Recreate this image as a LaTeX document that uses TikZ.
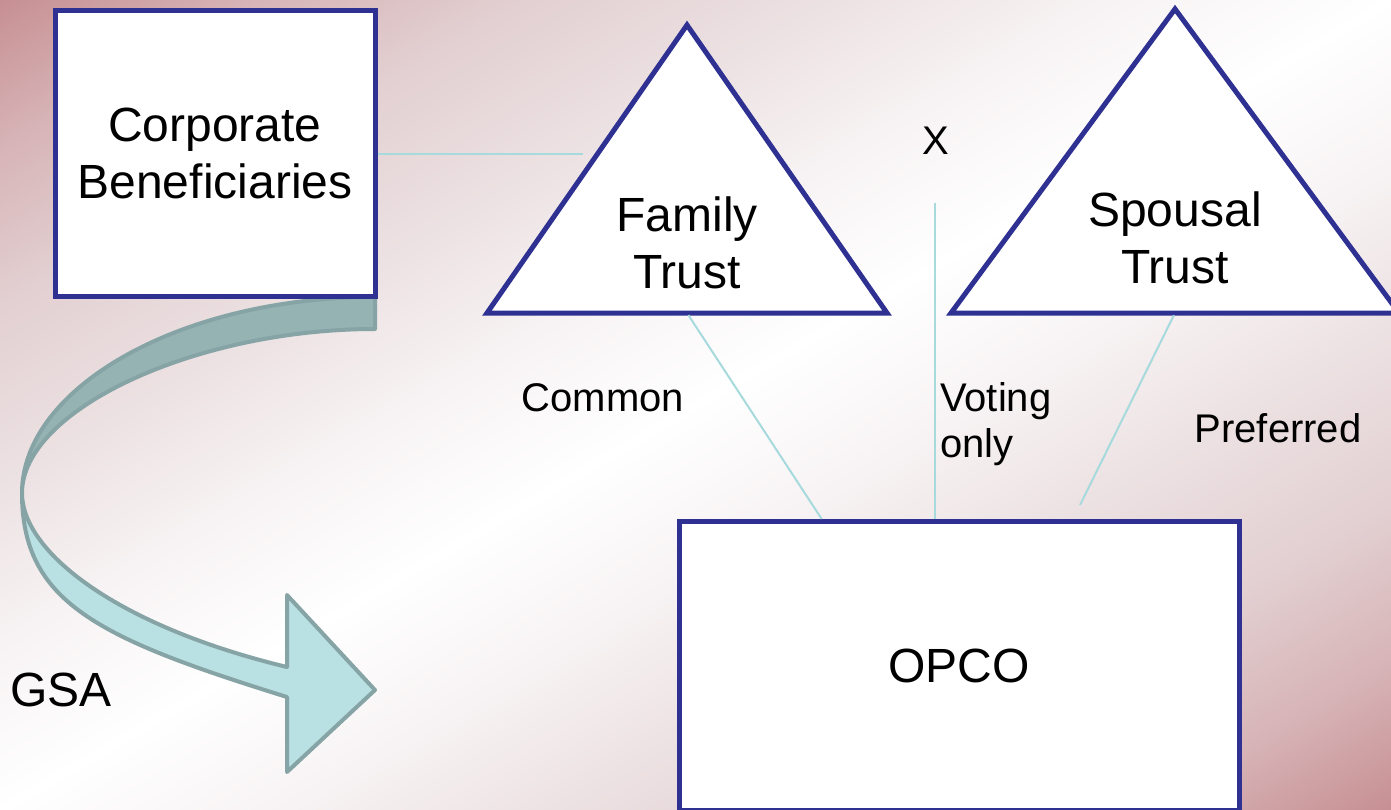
\documentclass[tikz,border=0pt]{standalone}
\usepackage{fontspec}
\setmainfont{Liberation Sans}
\newcommand\dgBig{\fontsize{48}{57}\selectfont}
\newcommand\dgSmall{\fontsize{40}{46}\selectfont}
\definecolor{navy}{RGB}{46,49,146}
\definecolor{conncol}{RGB}{166,218,221}
\definecolor{bandDark}{RGB}{150,179,180}
\definecolor{bandLight}{RGB}{185,224,227}
\definecolor{bandEdge}{RGB}{134,164,165}
\definecolor{bgA}{RGB}{196,137,141}
\definecolor{bgB}{RGB}{214,178,181}
\definecolor{bgC}{RGB}{226,207,209}
\definecolor{bgD}{RGB}{238,228,229}
\definecolor{bgE}{RGB}{248,244,245}
\tikzset{
  navybox/.style={draw=navy, line width=5pt, fill=white, inner sep=0pt, outer sep=0pt, align=center, font=\dgBig},
  tri/.style={draw=navy, line width=5pt, fill=white, line join=miter},
  conn/.style={draw=conncol, line width=2pt},
  lbl/.style={font=\dgSmall, inner sep=0pt, align=left},
  biglbl/.style={font=\dgBig, inner sep=0pt, align=center},
  band/.style={draw=bandEdge, line width=4pt, line join=round}
}
\begin{document}
\begin{tikzpicture}[x=1pt,y=-1pt]
\useasboundingbox (0,0) rectangle (1391,809);
% background gradient
\begin{scope}
\clip (0,0) rectangle (1391,809);
\begin{scope}[transform canvas={rotate around={30.2:(695.5,404.5)}}]
\fill[bgA] (-500,-495.5) rectangle (1900,-314.5);
\shade[top color=bgA,bottom color=bgB] (-500,-315.5) rectangle (1900,-174.5);
\shade[top color=bgB,bottom color=bgC] (-500,-175.5) rectangle (1900,-34.5);
\shade[top color=bgC,bottom color=bgD] (-500,-35.5) rectangle (1900,145.5);
\shade[top color=bgD,bottom color=bgE] (-500,144.5) rectangle (1900,275.5);
\shade[top color=bgE,bottom color=white] (-500,274.5) rectangle (1900,405.5);
\shade[top color=white,bottom color=bgE] (-500,404.5) rectangle (1900,535.5);
\shade[top color=bgE,bottom color=bgD] (-500,534.5) rectangle (1900,665.5);
\shade[top color=bgD,bottom color=bgC] (-500,664.5) rectangle (1900,845.5);
\shade[top color=bgC,bottom color=bgB] (-500,844.5) rectangle (1900,985.5);
\shade[top color=bgB,bottom color=bgA] (-500,984.5) rectangle (1900,1125.5);
\fill[bgA] (-500,1124.5) rectangle (1900,1304.5);
\end{scope}
\end{scope}

\begin{scope}
\clip (0,0) rectangle (1391,809);
% curved GSA arrow
\filldraw[band, fill=bandDark] (375,297) .. controls (180,297) and (22,388) .. (22,493)
  .. controls (22,410) and (195,329) .. (375,329) -- cycle;
\filldraw[band, fill=bandLight] (22,493) .. controls (22,602) and (97,638) .. (287,697)
  -- (287,772) -- (375,690) -- (287,595) -- (287,667)
  .. controls (117,626) and (22,552) .. (22,493) -- cycle;

% boxes
\node[navybox, minimum width=320pt, minimum height=286pt] (cb) at (215,153) {Corporate\\Beneficiaries};
\node[navybox, minimum width=560pt, minimum height=289pt] (opco) at (959,665.5) {\raisebox{-2.5pt}{OPCO}};

% triangles
\coordinate (fta) at (687,25);
\coordinate (ftl) at (487,313);
\coordinate (ftr) at (887,313);
\coordinate (sta) at (1175,9);
\coordinate (stl) at (951,313);
\coordinate (str) at (1399,313);
\filldraw[tri] (fta) -- (ftl) -- (ftr) -- cycle;
\filldraw[tri] (sta) -- (stl) -- (str) -- cycle;

% texts
\node[biglbl] (ftt) at (687,243) {Family\\Trust};
\node[biglbl] (stt) at (1175,238) {Spousal\\Trust};
\node[lbl] (xl) at (936,141) {X};
\node[lbl] (common) at (603,398) {Common};
\node[lbl, anchor=west] (voting) at (940,424) {Voting\\only};
\node[lbl] (pref) at (1278,428) {Preferred};
\node[biglbl] (gsa) at (61,690) {GSA};

% connectors
\coordinate (cbend) at (583,154);
\coordinate (ftb) at (687,313);
\coordinate (ftend) at (823,521);
\coordinate (vtop) at (935,203);
\coordinate (stb) at (1175,313);
\coordinate (stend) at (1080,505);
\draw[conn, shorten <=2.5pt] (cb.east |- cbend) -- (cbend);
\draw[conn, shorten <=2.5pt, shorten >=2.5pt] (ftb) -- (ftend);
\draw[conn, shorten >=2.5pt] (vtop) -- (vtop |- opco.north);
\draw[conn, shorten <=2.5pt] (stb) -- (stend);
\end{scope}
\end{tikzpicture}
\end{document}
